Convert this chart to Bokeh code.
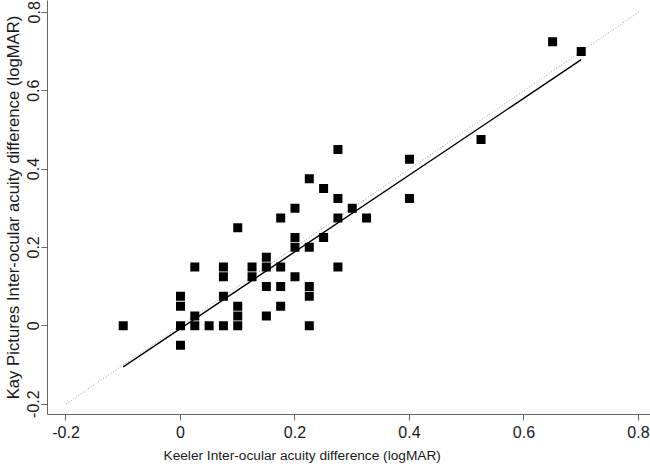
from bokeh.plotting import figure
from bokeh.models import Range1d, FixedTicker, ColumnDataSource, Title
from bokeh.embed import file_html
from bokeh.resources import INLINE

# --- data ---
keeler = [-0.1, 0, 0, 0, 0, 0.025, 0.025, 0.025, 0.05, 0.075, 0.075, 0.075, 0.075,
          0.1, 0.1, 0.1, 0.1, 0.125, 0.125, 0.15, 0.15, 0.15, 0.15,
          0.175, 0.175, 0.175, 0.175, 0.2, 0.2, 0.2, 0.2,
          0.225, 0.225, 0.225, 0.225, 0.225, 0.25, 0.25,
          0.275, 0.275, 0.275, 0.275, 0.3, 0.325, 0.4, 0.4, 0.525, 0.65, 0.7]
kay = [0, 0.075, 0.05, 0, -0.05, 0.15, 0.025, 0, 0, 0.15, 0.125, 0.075, 0,
       0.25, 0.05, 0.025, 0, 0.15, 0.125, 0.175, 0.15, 0.1, 0.025,
       0.275, 0.15, 0.1, 0.05, 0.3, 0.225, 0.2, 0.125,
       0.375, 0.2, 0.1, 0.075, 0, 0.35, 0.225,
       0.45, 0.325, 0.275, 0.15, 0.3, 0.275, 0.425, 0.325, 0.475, 0.725, 0.7]
# regression line as drawn in the reference
fit_slope = 0.98
fit_intercept = -0.007
identity_x = [-0.2, 0.8]
tick_vals = [-0.2, 0, 0.2, 0.4, 0.6, 0.8]
tick_labels = ["-0.2", "0", "0.2", "0.4", "0.6", "0.8"]
x_title = "Keeler Inter-ocular acuity difference (logMAR)"
y_title = "Kay Pictures Inter-ocular acuity difference (logMAR)"

fit_x = [min(keeler), max(keeler)]
fit_y = [fit_intercept + fit_slope * v for v in fit_x]

FONT = "Liberation Sans"

p = figure(width=650, height=469, output_backend="svg", toolbar_location=None,
           x_range=Range1d(-0.2323, 0.821), y_range=Range1d(-0.2266, 0.8301),
           min_border_left=47, min_border_right=0, min_border_top=0, min_border_bottom=54)
p.outline_line_color = None
p.grid.visible = False
p.background_fill_color = "white"
p.border_fill_color = "white"

src = ColumnDataSource(dict(x=keeler, y=kay))
p.line(identity_x, identity_x, line_color="#9a9a9a", line_width=1, line_dash="1 2")
p.line(fit_x, fit_y, line_color="black", line_width=1.4)
p.scatter("x", "y", source=src, marker="square", size=9,
          fill_color="black", line_color=None)

for ax in (p.xaxis[0], p.yaxis[0]):
    ax.ticker = FixedTicker(ticks=tick_vals)
    ax.major_label_overrides = dict(zip(tick_vals, tick_labels))
    ax.minor_tick_line_color = None
    ax.axis_line_color = "#666666"
    ax.major_tick_line_color = "#666666"
    ax.major_tick_in = 0
    ax.major_tick_out = 6
    ax.major_label_text_font = FONT
    ax.major_label_text_font_size = "16px"
    ax.major_label_text_color = "#1a1a1a"
    ax.axis_label_text_font = FONT
    ax.axis_label_text_font_style = "normal"
    ax.axis_label_text_color = "#1a1a1a"

p.xaxis.major_label_standoff = 5

# x-axis title below the tick labels (left of centre, as in the reference)
p.add_layout(Title(text=x_title, align="left", offset=116, vertical_align="middle",
                   standoff=12, text_font=FONT, text_font_size="13.7px",
                   text_font_style="normal", text_color="#1a1a1a"), "below")

p.yaxis.axis_label = y_title
p.yaxis.axis_label_text_font_size = "16.7px"
p.yaxis.major_label_orientation = "parallel"
p.yaxis.major_label_standoff = 2
p.yaxis.axis_label_standoff = 2

open("out.html", "w").write(file_html(p, INLINE))
